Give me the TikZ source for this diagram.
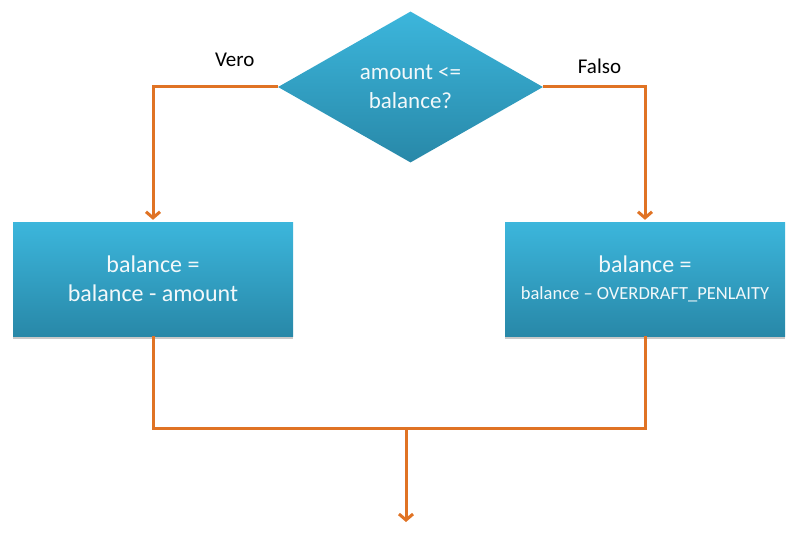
\documentclass[tikz,border=0pt]{standalone}
\usepackage{fontspec}
\setmainfont{Carlito}
\usetikzlibrary{positioning}
\usetikzlibrary{shapes.geometric}
\usetikzlibrary{arrows.meta}
\usetikzlibrary{shadows}
\definecolor{lineorange}{RGB}{224,115,36}
\definecolor{boxtop}{RGB}{60,182,220}
\definecolor{boxbot}{RGB}{40,136,168}
\definecolor{boxtext}{RGB}{242,248,250}
\tikzset{%
  flowarrow/.style = {-{Straight Barb[length=6pt,width=14pt]},lineorange,line width=3pt,shorten >=2pt},
  flowline/.style = {lineorange,line width=3pt},
  cond/.style = {diamond,top color=boxtop,bottom color=boxbot,text=boxtext,
        minimum width=265pt,minimum height=151pt,inner sep=0pt,align=center,
        font=\fontsize{23}{29}\selectfont},
  act/.style = {rectangle,top color=boxtop,bottom color=boxbot,text=boxtext,
        minimum width=280pt,minimum height=114pt,align=center,
        font=\fontsize{24}{29}\selectfont,
        drop shadow={shadow xshift=0pt,shadow yshift=-2.5pt,opacity=0.3,fill=black!70}},
  lab/.style = {anchor=base,font=\fontsize{21}{25}\selectfont}
}
\begin{document}
\begin{tikzpicture}[x=1pt,y=-1pt]
    \useasboundingbox (0,0) rectangle (799,532);
    \node[cond] (test) at (410.5,87) {amount <=\\balance?};
    \node[act] (yes) at (153,279) {balance =\\balance - amount};
    \node[act] (no) at (645,279) {balance =\\[-2pt]{\fontsize{18.5}{22}\selectfont balance -- OVERDRAFT\_PENLAITY}};
    \node[lab] (vero) at (234.7,67) {Vero};
    \node[lab] (falso) at (599.5,74) {Falso};
    \coordinate (merge) at (406,428);
    \coordinate (exit) at (406,524);
    \draw[flowarrow] (test.west) -| (yes.north);
    \draw[flowarrow] (test.east) -| (no.north);
    \draw[flowline] (yes.south) |- (merge) -| (no.south);
    \draw[flowarrow] (merge) -- (exit);
\end{tikzpicture}
\end{document}
